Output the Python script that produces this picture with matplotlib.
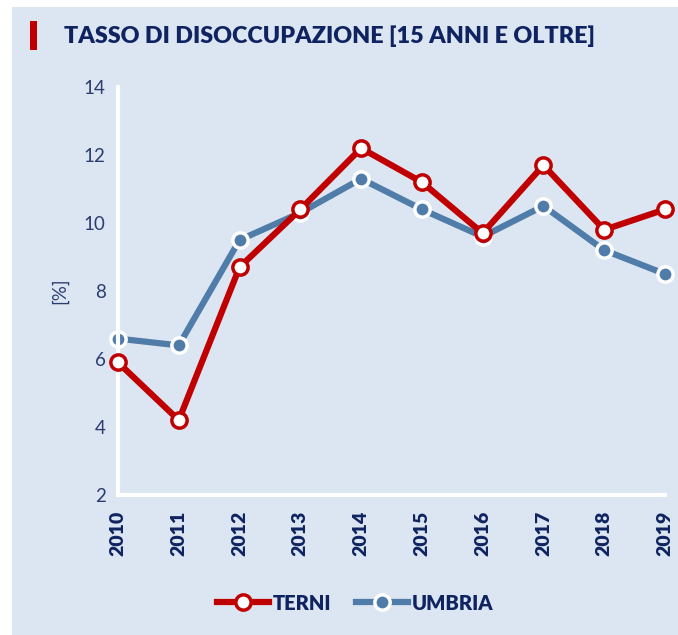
import matplotlib
matplotlib.use("Agg")
import matplotlib.pyplot as plt
from matplotlib.patches import Rectangle

years = [2010, 2011, 2012, 2013, 2014, 2015, 2016, 2017, 2018, 2019]
terni = [5.9, 4.2, 8.7, 10.4, 12.2, 11.2, 9.7, 11.7, 9.8, 10.4]
umbria = [6.6, 6.4, 9.5, 10.3, 11.3, 10.4, 9.6, 10.5, 9.2, 8.5]
yticks = [2, 4, 6, 8, 10, 12, 14]

BG = "#dce6f2"
NAVY = "#0f2360"
TICK = "#2c3c70"
RED = "#c00000"
BLUE = "#4f7ca8"

plt.rcParams['font.family'] = ['Lato', 'DejaVu Sans']

fig = plt.figure(figsize=(6.78, 6.35), dpi=100)
fig.patch.set_facecolor("white")
fig.patches.append(Rectangle((12/678, 0), 1 - 12/678, 1 - 7/635,
                             transform=fig.transFigure, facecolor=BG,
                             edgecolor="none", zorder=-10))
# title marker + title
fig.patches.append(Rectangle((30/678, 1 - 50/635), 7/678, 29/635,
                             transform=fig.transFigure, facecolor=RED,
                             edgecolor="none"))
fig.text(64/678, 1 - 36/635, "TASSO DI DISOCCUPAZIONE [15 ANNI E OLTRE]",
         fontsize=16.8, fontweight="heavy", color=NAVY, va="center", ha="left")

ax = fig.add_axes([118/678, 1 - 495/635, (665 - 118)/678, (495 - 87)/635])
ax.set_facecolor("none")
ax.plot(years, terni, color=RED, lw=4.5, marker="o", ms=11,
        markerfacecolor="white", markeredgecolor=RED, markeredgewidth=2.5,
        label="TERNI", zorder=3, clip_on=False)
ax.plot(years, umbria, color=BLUE, lw=4.5, marker="o", ms=11,
        markerfacecolor=BLUE, markeredgecolor="white", markeredgewidth=2.5,
        label="UMBRIA", zorder=2, clip_on=False)

ax.set_xlim(2010, 2019)
ax.set_ylim(2, 14)
ax.set_yticks(yticks)
ax.set_xticks(years)
ax.set_xticklabels([str(y) for y in years], rotation=90, fontweight="heavy",
                   fontsize=14, color=NAVY)
ax.tick_params(axis="y", length=0, pad=9, labelsize=13.5, labelcolor=TICK)
ax.tick_params(axis="x", length=0, pad=11)
for s in ["top", "right"]:
    ax.spines[s].set_visible(False)
for s in ["left", "bottom"]:
    ax.spines[s].set_color("white")
    ax.spines[s].set_linewidth(3)
ax.set_ylabel("[%]", fontsize=13.5, color=TICK, labelpad=11)

leg = fig.legend(handles=ax.get_lines(), loc="center",
                 bbox_to_anchor=(355/678, 1 - 603/635), ncol=2, frameon=False,
                 prop={"weight": "heavy", "size": 14.5}, handlelength=2.6,
                 columnspacing=1.2, handletextpad=0.2)
for t in leg.get_texts():
    t.set_color(NAVY)

fig.savefig("out.png", dpi=100, facecolor=fig.get_facecolor())
